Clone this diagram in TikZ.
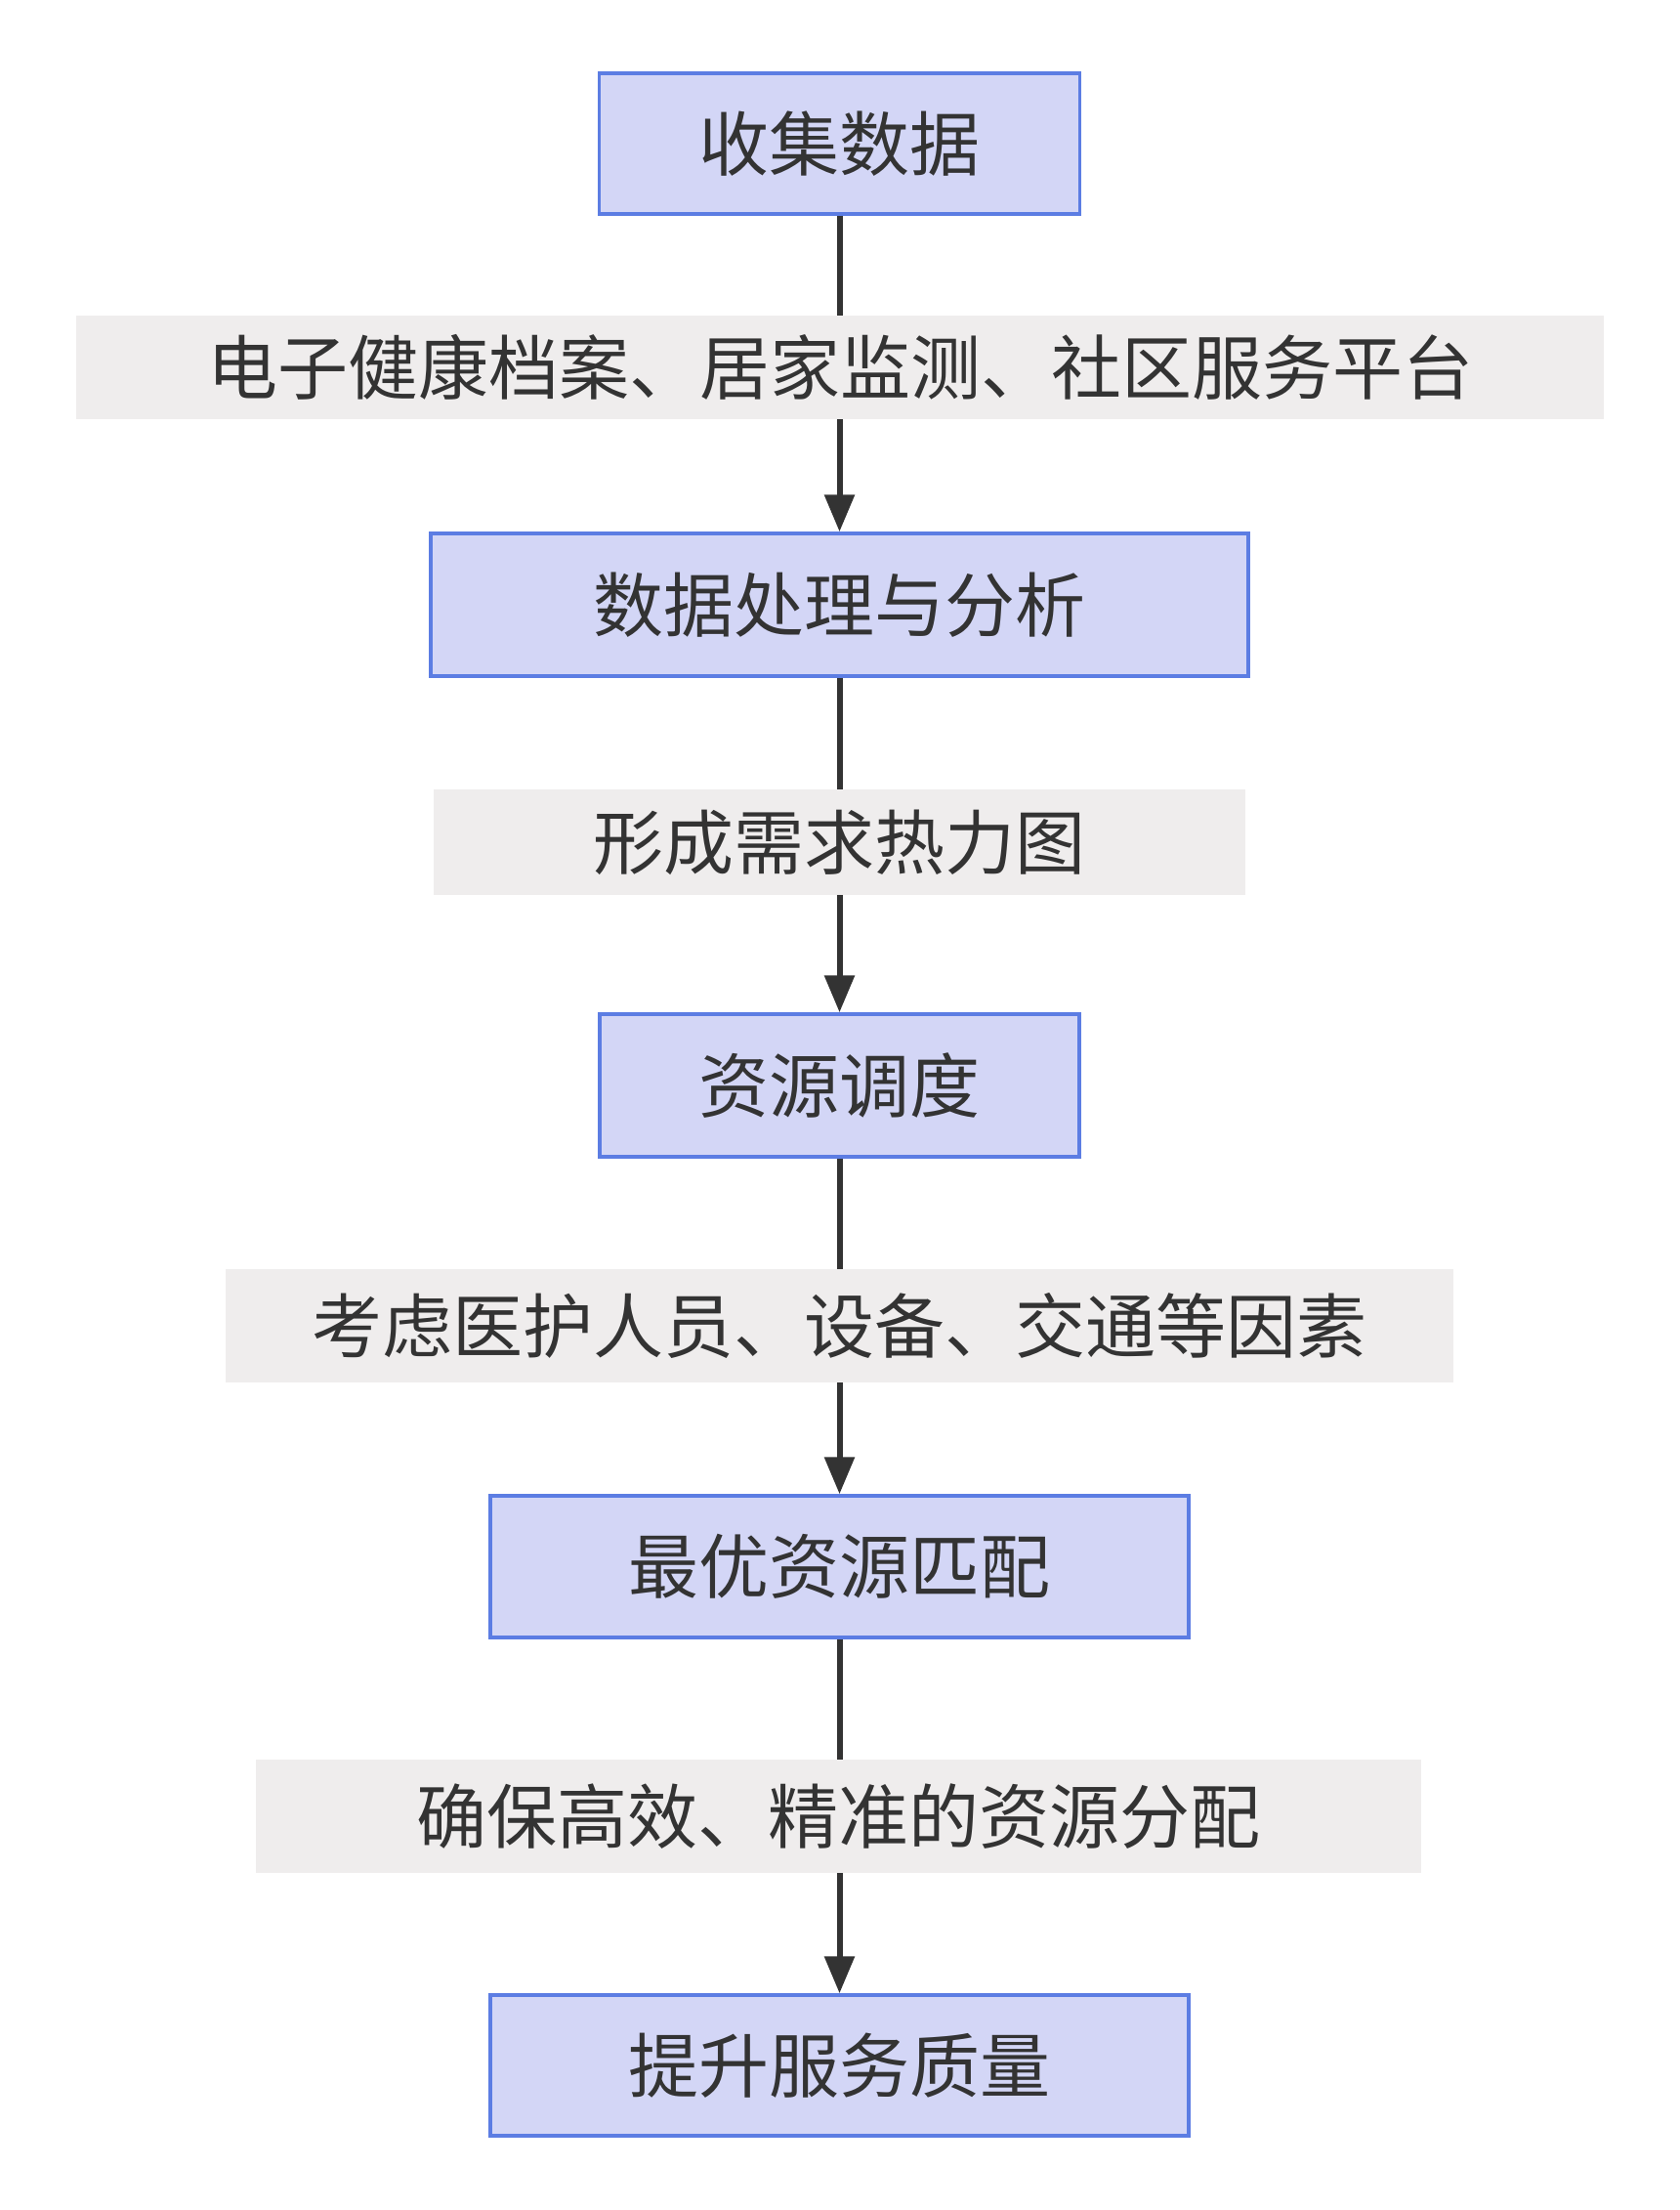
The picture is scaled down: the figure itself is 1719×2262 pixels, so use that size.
\documentclass[tikz,border=0pt]{standalone}
\usepackage{fontspec}
\newfontfamily\cjk{Noto Sans CJK SC}
\usetikzlibrary{arrows.meta}
\definecolor{boxfill}{HTML}{D3D6F6}
\definecolor{boxline}{HTML}{5C7DE3}
\definecolor{lblfill}{HTML}{EFEDED}
\definecolor{ink}{HTML}{333333}
\tikzset{
  stepbox/.style={draw=boxline, line width=3.5pt, fill=boxfill, text=ink,
    inner sep=0pt, font=\cjk\fontsize{72}{80}\selectfont},
  lbl/.style={fill=lblfill, text=ink, inner sep=0pt,
    font=\cjk\fontsize{72}{80}\selectfont},
  flow/.style={draw=ink, line width=6pt,
    -{Triangle[length=38pt,width=30pt]}}
}
\begin{document}
\begin{tikzpicture}[x=1pt,y=-1pt]
\useasboundingbox (0,0) rectangle (1719,2262);
% boxes
\node[stepbox, minimum width=492pt, minimum height=144pt] (b1) at (859.5,147) {收集数据};
\node[stepbox, minimum width=837pt, minimum height=146pt] (b2) at (859.5,619) {数据处理与分析};
\node[stepbox, minimum width=491pt, minimum height=146pt] (b3) at (859.5,1111) {资源调度};
\node[stepbox, minimum width=715pt, minimum height=145pt] (b4) at (859.5,1603.5) {最优资源匹配};
\node[stepbox, minimum width=715pt, minimum height=144pt] (b5) at (859.5,2114) {提升服务质量};
% edges
\draw[flow] (b1) -- (b2);
\draw[flow] (b2) -- (b3);
\draw[flow] (b3) -- (b4);
\draw[flow] (b4) -- (b5);
% labels
\node[lbl, minimum width=1564pt, minimum height=106pt] (l1) at (860,376) {电子健康档案、居家监测、社区服务平台};
\node[lbl, minimum width=831pt, minimum height=108pt] (l2) at (859.5,862) {形成需求热力图};
\node[lbl, minimum width=1257pt, minimum height=116pt] (l3) at (859.5,1357) {考虑医护人员、设备、交通等因素};
\node[lbl, minimum width=1193pt, minimum height=116pt] (l4) at (858.5,1859) {确保高效、精准的资源分配};
\end{tikzpicture}
\end{document}
